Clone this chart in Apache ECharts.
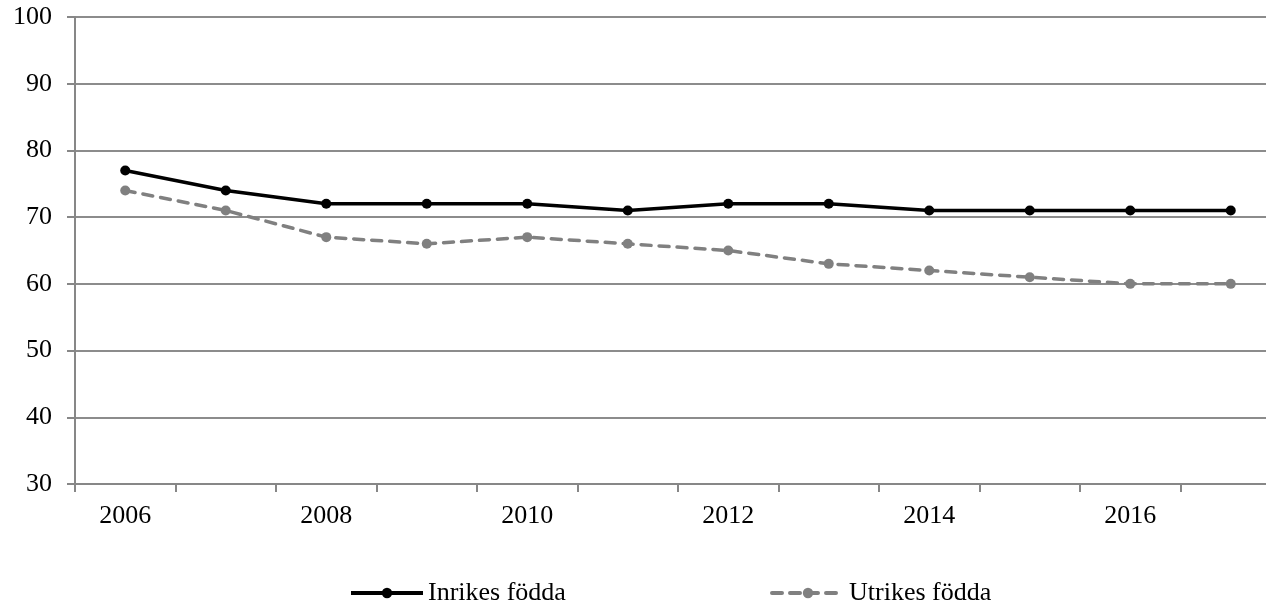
<!DOCTYPE html>
<html><head><meta charset="utf-8">
<script src="https://cdn.jsdelivr.net/npm/echarts@6/dist/echarts.min.js"></script>
<style>html,body{margin:0;padding:0;background:#fff;overflow:hidden}#c{width:1281px;height:601px}</style>
</head><body><div id="c"></div>
<script>
var years = ['2006','2007','2008','2009','2010','2011','2012','2013','2014','2015','2016','2017'];
var inrikes = [77,74,72,72,72,71,72,72,71,71,71,71];
var utrikes = [74,71,67,66,67,66,65,63,62,61,60,60];
var yTicks = {min:30, max:100, interval:10};
var font = '"Liberation Serif","Times New Roman",serif';
var chart = echarts.init(document.getElementById('c'), null, {renderer:'canvas'});
var legendCommon = {top:580, itemWidth:72, itemHeight:13, padding:0,
    textStyle:{fontSize:26, fontFamily:font, color:'#000'}};
chart.setOption({
  animation:false,
  backgroundColor:'#fff',
  textStyle:{fontFamily:font},
  grid:{left:75, top:17, width:1206, height:467, containLabel:false},
  xAxis:{type:'category', data:years, boundaryGap:true,
    axisLine:{lineStyle:{color:'#878787', width:2}},
    axisTick:{show:true, length:8, interval:0, lineStyle:{color:'#878787', width:2}},
    axisLabel:{interval:1, color:'#000', fontSize:26, fontFamily:font, margin:19},
    splitLine:{show:false}},
  yAxis:{type:'value', min:yTicks.min, max:yTicks.max, interval:yTicks.interval,
    axisLine:{show:true, lineStyle:{color:'#878787', width:2}},
    axisTick:{show:true, length:8, lineStyle:{color:'#878787', width:2}},
    axisLabel:{color:'#000', fontSize:26, fontFamily:font, margin:23},
    splitLine:{lineStyle:{color:'#8c8c8c', width:2}}},
  legend:[
    Object.assign({left:349, data:[{name:'Inrikes födda', lineStyle:{width:4}}]}, legendCommon),
    Object.assign({left:770, data:[{name:'Utrikes födda', lineStyle:{width:4, type:[10,8], cap:'round'}}]}, legendCommon)
  ],
  series:[
    {name:'Inrikes födda', type:'line', data:inrikes, symbol:'circle', symbolSize:10,
      lineStyle:{color:'#000', width:3.5}, itemStyle:{color:'#000'}},
    {name:'Utrikes födda', type:'line', data:utrikes, symbol:'circle', symbolSize:10,
      lineStyle:{color:'#808080', width:3.5, type:[10,8], cap:'round'}, itemStyle:{color:'#808080'}}
  ]
});
</script></body></html>
